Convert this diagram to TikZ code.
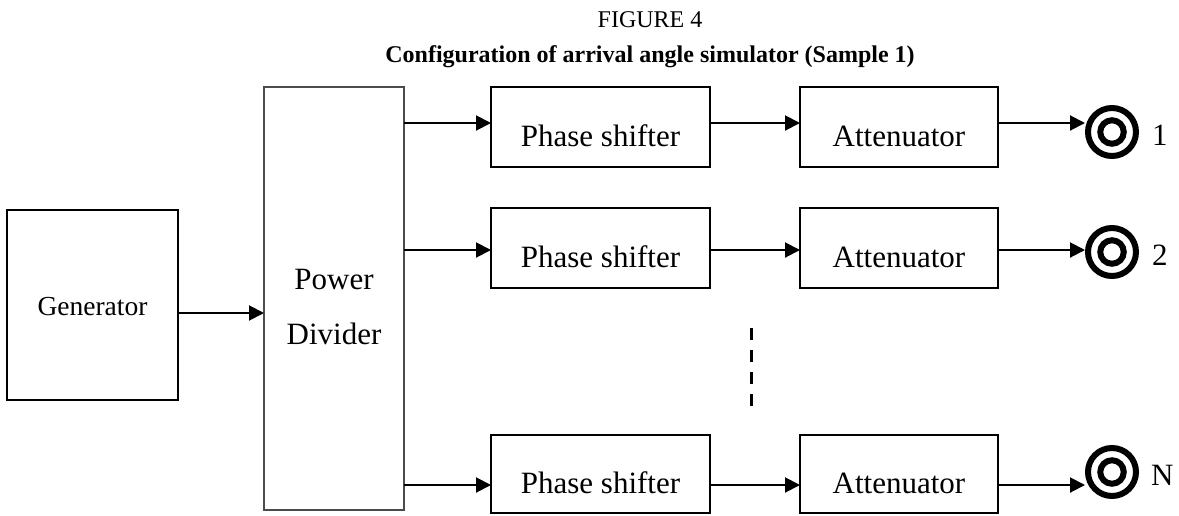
\documentclass[tikz,border=0pt]{standalone}
\usepackage{fontspec}
\setmainfont{Liberation Serif}
\usetikzlibrary{arrows.meta}
\begin{document}
\begin{tikzpicture}[x=1pt,y=-1pt,
  box/.style={draw, line width=1.8pt, inner sep=0pt, outer sep=0pt, font=\fontsize{31}{37}\selectfont},
  psbox/.style={box, minimum width=219pt, minimum height=80pt, text height=38pt, text depth=0pt},
  attbox/.style={box, minimum width=198pt, minimum height=80pt, text height=38pt, text depth=0pt},
  arr/.style={line width=2pt, -{Triangle[length=15pt,width=15pt]}},
  port/.style={circle, draw, line width=6pt, minimum size=48pt, inner sep=0pt},
  portlbl/.style={anchor=base west, inner sep=0pt, font=\fontsize{31}{37}\selectfont},
  ttl/.style={anchor=base, inner sep=0pt, font=\fontsize{24}{29}\selectfont}
]
\useasboundingbox (0,0) rectangle (1179,515);

% titles
\node[ttl] (fig) at (650,27) {FIGURE 4};
\node[ttl, font=\fontsize{24}{29}\selectfont\bfseries] (cap) at (650,62) {Configuration of arrival angle simulator (Sample 1)};

% generator and divider
\node[box, minimum width=171pt, minimum height=190pt, text height=20pt, text depth=0pt,
      font=\fontsize{27.5}{33}\selectfont] (gen) at (92.5,305) {Generator};
\node[draw=black!70, line width=1.3pt, inner sep=0pt, outer sep=0pt, minimum width=140pt, minimum height=423pt,
      font=\fontsize{31}{37}\selectfont] (pd) at (334,298.5)
      {\begin{tabular}{@{}c@{}}\rule{0pt}{49pt}Power\\[18pt]Divider\end{tabular}};

% rows
\node[psbox] (ps1) at (600.5,127) {Phase shifter};
\node[psbox] (ps2) at (600.5,248) {Phase shifter};
\node[psbox, minimum height=78pt] (psN) at (600.5,474) {Phase shifter};
\node[attbox] (at1) at (899,127) {Attenuator};
\node[attbox] (at2) at (899,248) {Attenuator};
\node[attbox, minimum height=78pt] (atN) at (899,474) {Attenuator};

% ports
\node[port] (c1) at (1112,132) {};
\node[port] (c2) at (1112,252) {};
\node[port] (cN) at (1112,472) {};
\foreach \c in {c1,c2,cN} \draw[line width=6pt] (\c.center) circle (11.75pt);
\node[portlbl] (l1) at (1152,145) {1};
\node[portlbl] (l2) at (1152,265) {2};
\node[portlbl] (lN) at (1151,485) {N};

% row levels
\coordinate (rg) at (0,313);
\coordinate (r1) at (0,123);
\coordinate (r2) at (0,250);
\coordinate (rN) at (0,485);

\draw[arr] (gen.east |- rg) -- (pd.west |- rg);
\foreach \r/\p/\a/\c in {r1/ps1/at1/c1, r2/ps2/at2/c2, rN/psN/atN/cN}{
  \draw[arr] (pd.east |- \r) -- (\p.west |- \r);
  \draw[arr] (\p.east |- \r) -- (\a.west |- \r);
  \draw[arr] (\a.east |- \r) -- (\c.west |- \r);
}

% ellipsis
\coordinate (d1) at (751,328);
\coordinate (d2) at (751,408);
\draw[line width=3pt, dash pattern=on 12pt off 10pt] (d1) -- (d2);
\end{tikzpicture}
\end{document}
